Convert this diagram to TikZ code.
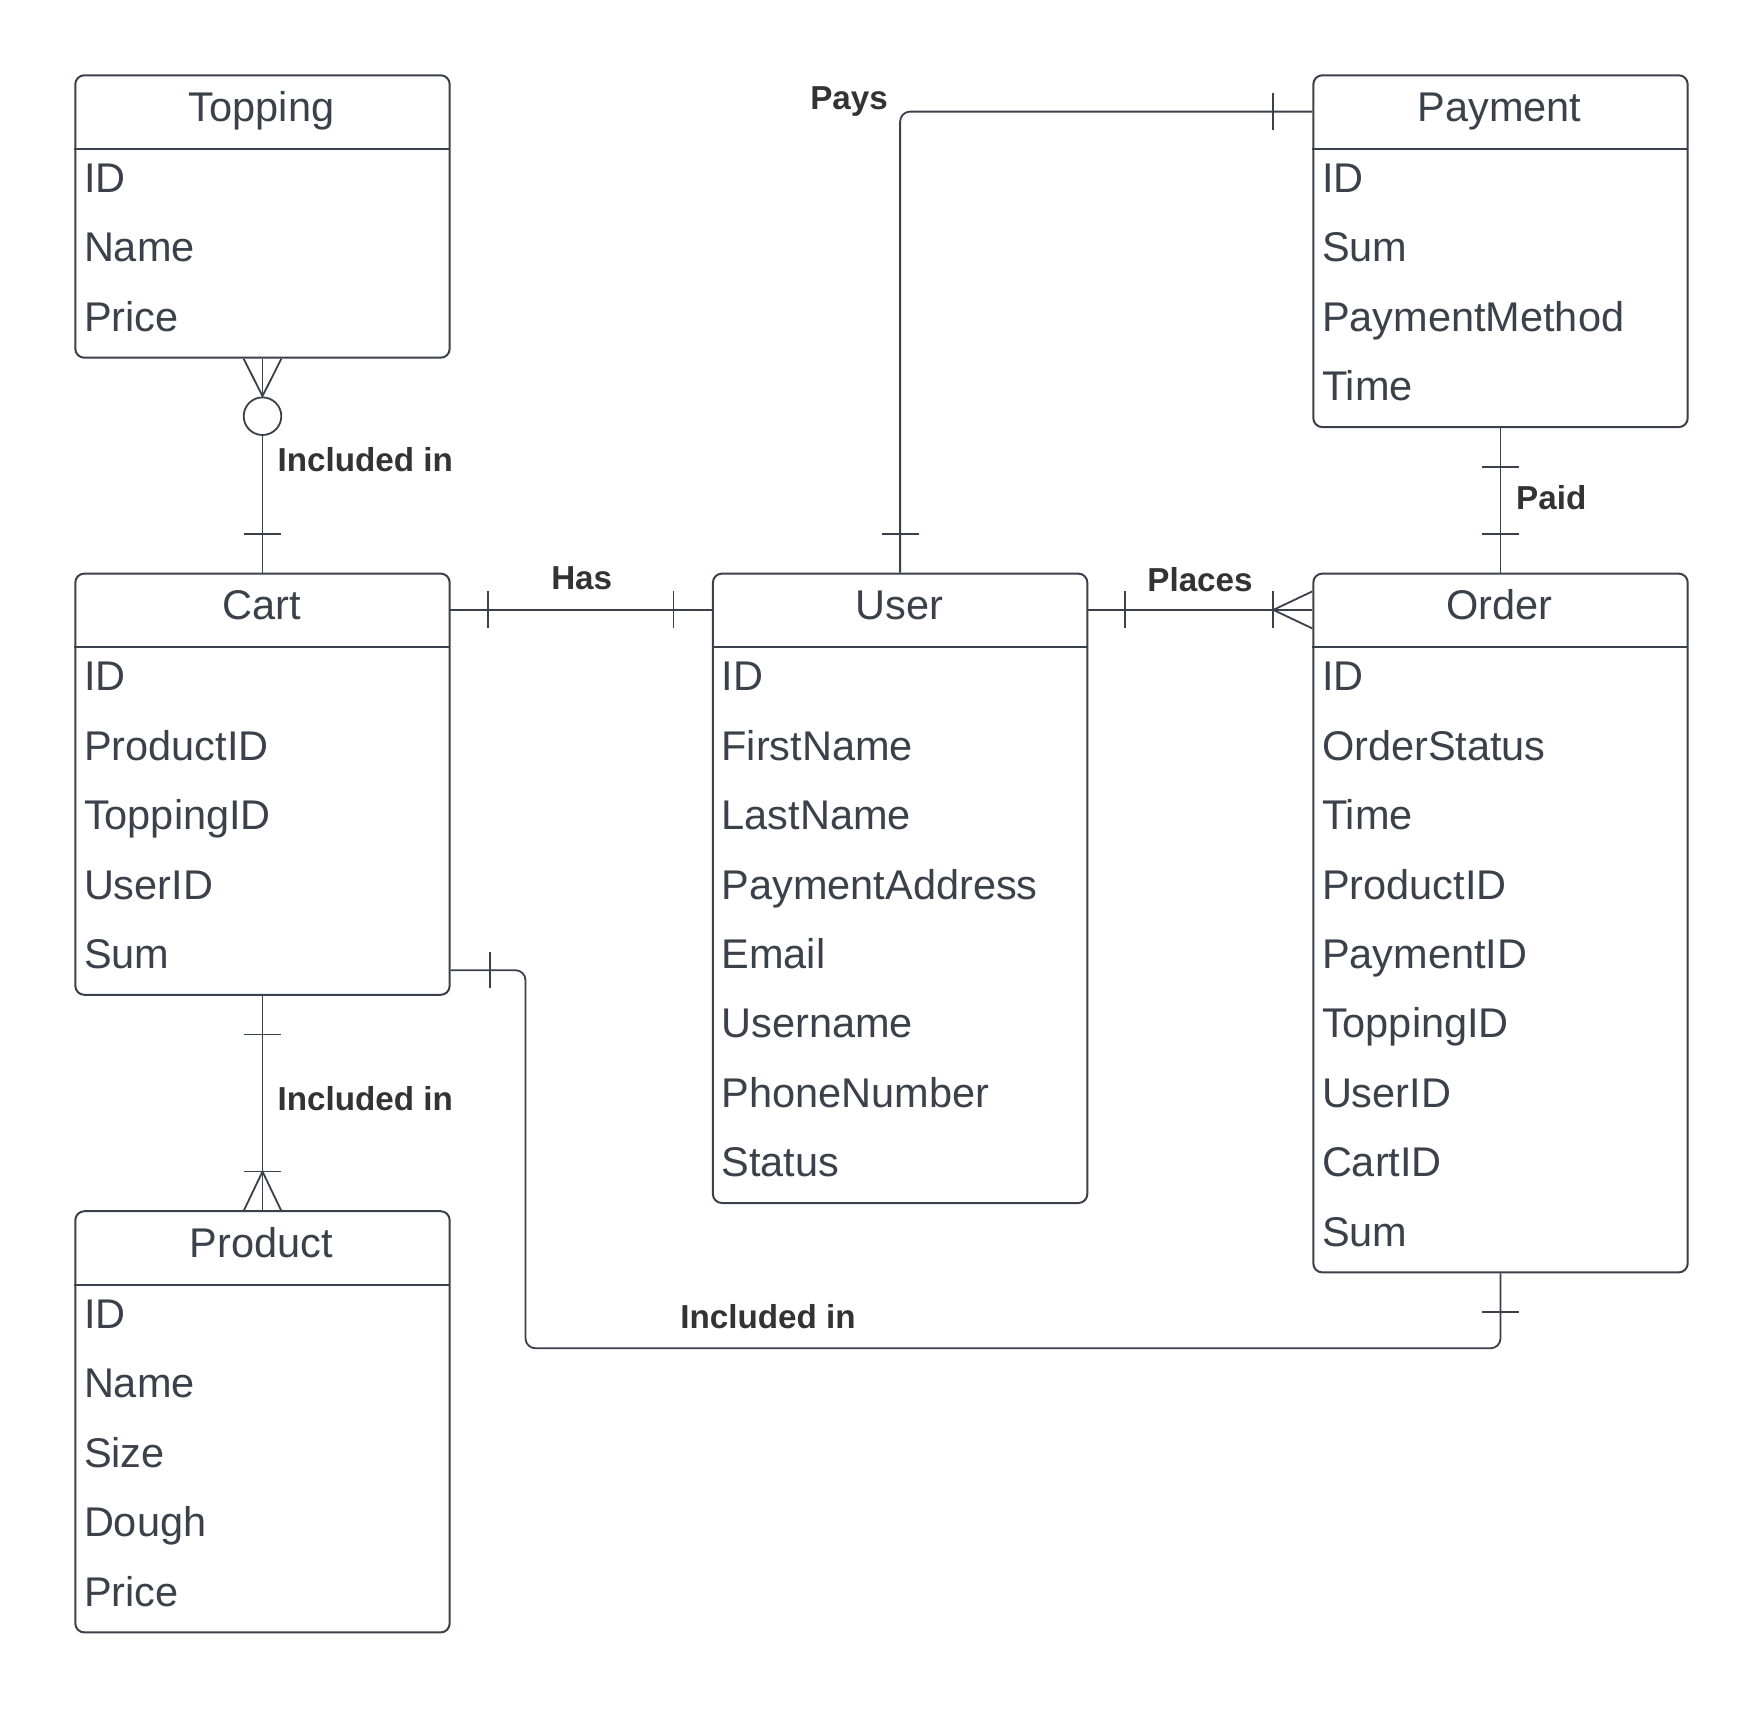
\documentclass[tikz,border=0pt]{standalone}
\usepackage{fontspec}
\setmainfont{Liberation Sans}
\usetikzlibrary{calc}
\definecolor{boxc}{HTML}{3A414A}
\definecolor{labc}{HTML}{333333}
\tikzset{
 entbox/.style={draw=boxc, line width=2pt, rounded corners=9pt, minimum width=374.4pt, inner sep=0pt, fill=white},
 enthead/.style={minimum width=374.4pt, minimum height=74.2pt, inner sep=0pt},
 divider/.style={draw=boxc, line width=1.6pt},
 enttitle/.style={text=boxc, font=\fontsize{41.5}{48}\selectfont, inner sep=0pt},
 entrow/.style={text=boxc, font=\fontsize{41.5}{48}\selectfont, inner sep=0pt},
 conn/.style={draw=boxc, line width=1.8pt},
 rel/.style={text=labc, font=\bfseries\fontsize{33.2}{39}\selectfont, inner sep=0pt},
}
\newcommand{\erent}[6]{%
  \node[entbox, minimum height={74.2pt+#4*69.4pt}, anchor=north west] (#1) at (#2,#3) {};
  \node[enthead, anchor=north west] (#1-h) at (#2,#3) {};
  \draw[divider] (#1-h.south west) -- (#1-h.south east);
  \node[enttitle, anchor=base] (#1-t) at (#2+187.2,#3+47) {#5};
  \foreach \r [count=\i from 0] in {#6} {
    \node[entrow, anchor=base west] (#1-r\i) at (#2+9.5,#3+74.2+44+\i*69.4) {\r};
  }
}
\begin{document}
\begin{tikzpicture}[x=1pt,y=-1pt]
\fill[white] (0,0) rectangle (1763,1708);
\useasboundingbox (0,0) rectangle (1763,1708);

\erent{topping}{74.3}{74.3}{3}{Topping}{ID,Name,Price}
\erent{payment}{1312.3}{74.3}{4}{Payment}{ID,Sum,PaymentMethod,Time}
\erent{cart}{74.3}{572.6}{5}{Cart}{ID,ProductID,ToppingID,UserID,Sum}
\erent{user}{711.9}{572.6}{8}{User}{ID,FirstName,LastName,PaymentAddress,Email,Username,PhoneNumber,Status}
\erent{order}{1312.3}{572.6}{9}{Order}{ID,OrderStatus,Time,ProductID,PaymentID,ToppingID,UserID,CartID,Sum}
\erent{product}{74.3}{1210.2}{5}{Product}{ID,Name,Size,Dough,Price}

% Topping - Cart
\draw[conn] (topping.south) -- (cart.north);
\draw[conn] ($(topping.south)+(-18.8,0)$) -- ($(topping.south)+(0,37.5)$) -- ($(topping.south)+(18.8,0)$);
\draw[conn, fill=white] ($(topping.south)+(0,57.5)$) circle[radius=18.8pt];
\draw[conn] ($(cart.north)+(-18.5,-39)$) -- ++(37,0);

% Cart - User (Has)
\draw[conn] (cart-h.east) -- (user-h.west);
\draw[conn] ($(cart-h.east)+(38.5,-18.5)$) -- ++(0,37);
\draw[conn] ($(user-h.west)+(-38.5,-18.5)$) -- ++(0,37);

% User - Order (Places)
\draw[conn] (user-h.east) -- (order-h.west);
\draw[conn] ($(user-h.east)+(38.5,-18.5)$) -- ++(0,37);
\draw[conn] ($(order-h.west)+(-39,-18.5)$) -- ++(0,37);
\draw[conn] ($(order-h.west)+(0,-18.5)$) -- ($(order-h.west)+(-39,0)$) -- ($(order-h.west)+(0,18.5)$);

% User - Payment (Pays)
\draw[conn, rounded corners=10pt] (user.north) |- (payment-h.west);
\draw[conn] ($(user.north)+(-18.5,-39)$) -- ++(37,0);
\draw[conn] ($(payment-h.west)+(-39,-18.5)$) -- ++(0,37);

% Payment - Order (Paid)
\draw[conn] (payment.south) -- (order.north);
\draw[conn] ($(payment.south)+(-18.5,38.6)$) -- ++(37,0);
\draw[conn] ($(order.north)+(-18.5,-38.4)$) -- ++(37,0);

% Cart - Product
\draw[conn] (cart.south) -- (product.north);
\draw[conn] ($(cart.south)+(-18.5,38.7)$) -- ++(37,0);
\draw[conn] ($(product.north)+(-18.5,-38.7)$) -- ++(37,0);
\draw[conn] ($(product.north)+(-18.5,0)$) -- ($(product.north)+(0,-38.7)$) -- ($(product.north)+(18.5,0)$);

% Cart - Order
\coordinate (cs) at ($(cart.south east)+(0,-25.6)$);
\coordinate (bend) at (525.5,1348.3);
\draw[conn, rounded corners=10pt] (cs) -| (bend) -| (order.south);
\draw[conn] ($(cs)+(39,-18)$) -- ++(0,36);
\draw[conn] ($(order.south)+(-18.5,38.5)$) -- ++(37,0);

% Labels
\node[rel, anchor=west] (l1) at (277.5,460) {Included in};
\node[rel] (l2) at (581.7,578) {Has};
\node[rel] (l3) at (1200,579.3) {Places};
\node[rel, anchor=east] (l4) at (888,102) {Pays};
\node[rel, anchor=west] (l5) at (1516,497.3) {Paid};
\node[rel, anchor=west] (l6) at (277.5,1098.3) {Included in};
\node[rel] (l7) at (768,1316.7) {Included in};
\end{tikzpicture}
\end{document}
